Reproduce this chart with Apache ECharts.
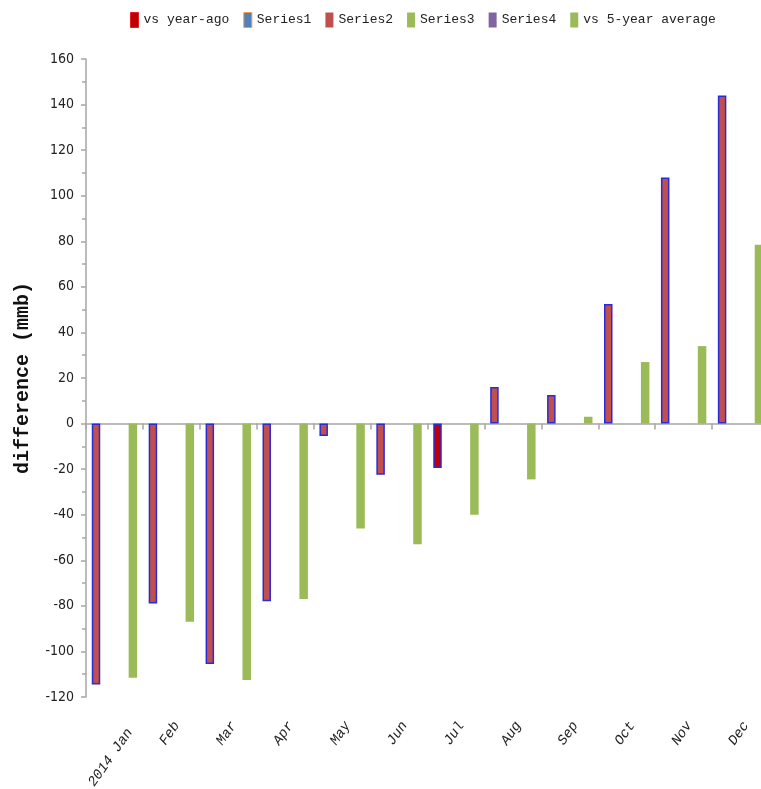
<!DOCTYPE html>
<html>
<head>
<meta charset="utf-8">
<script src="https://cdn.jsdelivr.net/npm/echarts@6/dist/echarts.min.js"></script>
<style>
  html, body { margin: 0; padding: 0; background: #fff; }
  #chart { width: 761px; height: 789px; }
</style>
</head>
<body>
<div id="chart"></div>
<script>
// Monthly differences (mmb)
const months = ['2014 Jan', 'Feb', 'Mar', 'Apr', 'May', 'Jun', 'Jul', 'Aug', 'Sep', 'Oct', 'Nov', 'Dec'];
const vsYearAgo = [-114.5, -79, -105.5, -78, -5.5, -22.5, -19.5, 16, 12.5, 52.5, 108, 144];
const vsFiveYearAvg = [-111.5, -87, -112.5, -77, -46, -53, -40, -24.5, 3, 27, 34, 78.5];
const yTicks = { min: -120, max: 160, step: 20 };

const monoFont = '"Liberation Mono", "DejaVu Sans Mono", monospace';
const narrowFont = '"DejaVu Sans Condensed", "Liberation Sans Narrow", "Liberation Sans", sans-serif';
const axisGrey = '#A6A6A6';

const chart = echarts.init(document.getElementById('chart'));

const yearAgoData = vsYearAgo.map((v, i) => ({
  value: v,
  itemStyle: { color: months[i] === 'Jul' ? '#C00000' : '#C0504D' }
}));

const emptySeries = [
  { name: 'Series1', color: '#4F81BD' },
  { name: 'Series2', color: '#C0504D' },
  { name: 'Series3', color: '#9BBB59' },
  { name: 'Series4', color: '#8064A2' }
].map(s => ({
  name: s.name,
  type: 'bar',
  stack: 'main',
  xAxisIndex: 0,
  yAxisIndex: 0,
  itemStyle: { color: s.color },
  data: []
}));

chart.setOption({
  animation: false,
  backgroundColor: '#fff',
  legend: {
    left: 130,
    top: 12,
    padding: 0,
    itemGap: 14,
    itemWidth: 8,
    itemHeight: 15,
    textStyle: { fontFamily: monoFont, fontSize: 13, color: '#222' },
    data: [
      { name: 'vs year-ago', icon: 'rect', itemStyle: { color: '#C00000', borderColor: '#E02020', borderWidth: 1 } },
      { name: 'Series1', icon: 'rect', itemStyle: { color: '#4F81BD', borderColor: '#F79646', borderWidth: 1 } },
      { name: 'Series2', icon: 'rect', itemStyle: { color: '#C0504D', borderWidth: 0 } },
      { name: 'Series3', icon: 'rect', itemStyle: { color: '#9BBB59', borderWidth: 0 } },
      { name: 'Series4', icon: 'rect', itemStyle: { color: '#8064A2', borderWidth: 0 } },
      { name: 'vs 5-year average', icon: 'rect', itemStyle: { color: '#9BBB59', borderWidth: 0 } }
    ]
  },
  grid: [
    { left: 86, width: 683, top: 59, bottom: 92, containLabel: false, outerBoundsMode: 'none' },
    { left: 91.5, width: 683, top: 59, bottom: 92, containLabel: false, outerBoundsMode: 'none' }
  ],
  xAxis: [
    {
      type: 'category',
      gridIndex: 0,
      data: months,
      axisLine: { onZero: true, lineStyle: { color: axisGrey, width: 1.5 } },
      axisTick: { show: true, interval: 0, length: 6, lineStyle: { color: axisGrey, width: 1.5 } },
      axisLabel: { show: false },
      splitLine: { show: false }
    },
    {
      type: 'category',
      gridIndex: 1,
      position: 'bottom',
      data: months,
      axisLine: { show: false },
      axisTick: { show: false },
      axisLabel: {
        interval: 0,
        rotate: 55,
        margin: 26,
        fontFamily: monoFont,
        fontSize: 14,
        fontStyle: 'italic',
        color: '#222',
        formatter: (v, i) => (i === 0 ? '{first|' + v + '}' : '{m|' + v + '}'),
        rich: {
          first: { fontFamily: monoFont, fontSize: 14, fontStyle: 'italic', color: '#222', padding: [24, 0, 0, 0] },
          m: { fontFamily: monoFont, fontSize: 14, fontStyle: 'italic', color: '#222' }
        }
      },
      splitLine: { show: false }
    }
  ],
  yAxis: [
    {
      type: 'value',
      gridIndex: 0,
      min: yTicks.min,
      max: yTicks.max,
      interval: yTicks.step,
      name: 'difference (mmb)',
      nameLocation: 'middle',
      nameGap: 53,
      nameRotate: 90,
      nameTextStyle: { fontFamily: monoFont, fontSize: 20, fontWeight: 'bold', color: '#111' },
      axisLine: { show: true, lineStyle: { color: axisGrey, width: 1.5 } },
      axisTick: { show: true, length: 5, lineStyle: { color: axisGrey, width: 1.5 } },
      minorTick: { show: true, splitNumber: 2, length: 4, lineStyle: { color: axisGrey, width: 1.5 } },
      axisLabel: { margin: 12, fontFamily: narrowFont, fontSize: 14, color: '#222' },
      splitLine: { show: false }
    },
    {
      type: 'value',
      gridIndex: 1,
      min: yTicks.min,
      max: yTicks.max,
      show: false
    }
  ],
  series: [
    {
      name: 'vs year-ago',
      type: 'bar',
      stack: 'main',
      xAxisIndex: 0,
      yAxisIndex: 0,
      barWidth: 8.5,
      barGap: '334%',
      itemStyle: { color: '#C00000', borderColor: '#2B2BD6', borderWidth: 1.5 },
      data: yearAgoData
    },
    ...emptySeries,
    {
      name: 'vs 5-year average',
      type: 'bar',
      xAxisIndex: 0,
      yAxisIndex: 0,
      barWidth: 8.5,
      barGap: '334%',
      itemStyle: { color: '#9BBB59' },
      data: vsFiveYearAvg
    }
  ]
});
</script>
</body>
</html>
